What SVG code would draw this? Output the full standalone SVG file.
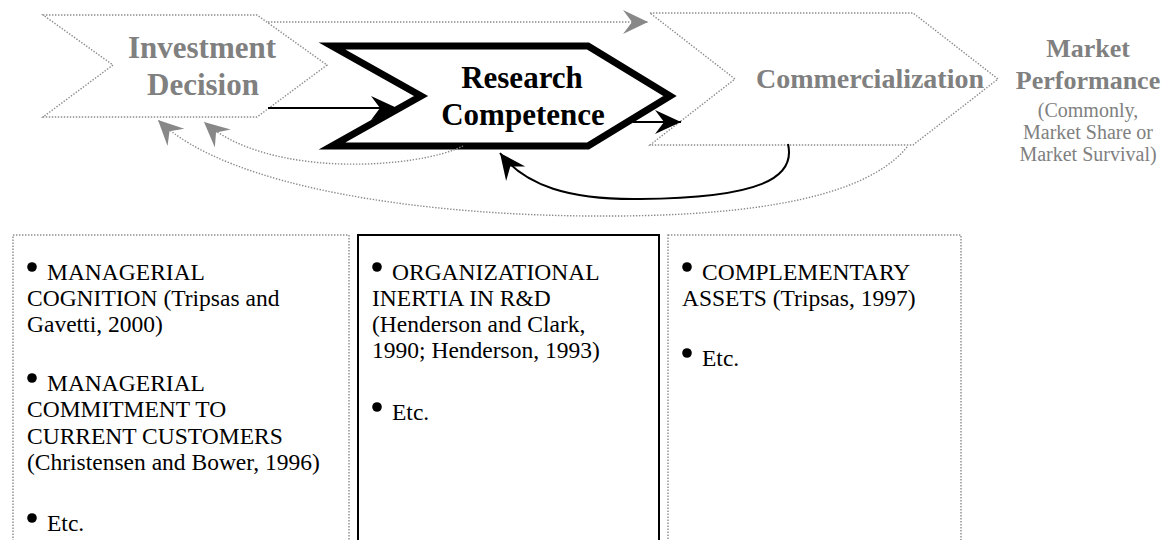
<svg xmlns="http://www.w3.org/2000/svg" width="1167" height="540" viewBox="0 0 1167 540">
<style>
.dot{fill:none;stroke:#8a8a8a;stroke-width:1.4;stroke-dasharray:1.4 1.6}
.gt{font-family:"Liberation Serif","Times New Roman",serif;font-weight:bold;fill:#808080;text-anchor:middle}
.gs{font-family:"Liberation Serif","Times New Roman",serif;fill:#808080;text-anchor:middle;font-size:20px}
.bt{font-family:"Liberation Serif","Times New Roman",serif;font-weight:bold;fill:#000;text-anchor:middle;font-size:31px}
.body{font-family:"Liberation Serif","Times New Roman",serif;font-size:23.5px;fill:#000}
.bul{fill:#000}
.blk{fill:none;stroke:#000;stroke-width:2}
</style>
<defs>
<marker id="ab" markerUnits="userSpaceOnUse" viewBox="-28 -14 30 28" refX="0" refY="0" markerWidth="30" markerHeight="28" orient="auto"><path d="M0,0 L-26,-12 L-17,0 L-26,12 Z" fill="#000"/></marker>
<marker id="ag" markerUnits="userSpaceOnUse" viewBox="-28 -14 30 28" refX="0" refY="0" markerWidth="30" markerHeight="28" orient="auto"><path d="M0,0 L-25,-12 L-16,0 L-25,12 Z" fill="#888"/></marker>
</defs>
<rect width="1167" height="540" fill="#fff"/>

<g id="investment-decision">
<polygon class="dot" points="43,15 257,15 327,65 257,117 43,117 113,65"/>
<text class="gt" font-size="31" x="202" y="58">Investment</text>
<text class="gt" font-size="31" x="203" y="95">Decision</text>
</g>

<g id="commercialization">
<polygon class="dot" points="650,13 913,13 998,79 913,145 650,145 735,79"/>
<text class="gt" font-size="28" x="870" y="88">Commercialization</text>
</g>

<g id="research-competence">
<polygon points="332,46 588,46 670,96 588,146 332,146 421,96" fill="#fff" stroke="#000" stroke-width="7" stroke-linejoin="miter"/>
<text class="bt" x="522" y="88">Research</text>
<text class="bt" x="523" y="125">Competence</text>
</g>

<g id="market-performance">
<text class="gt" font-size="26" x="1088" y="57">Market</text>
<text class="gt" font-size="26" x="1088" y="89">Performance</text>
<text class="gs" x="1088" y="117">(Commonly,</text>
<text class="gs" x="1088" y="139">Market Share or</text>
<text class="gs" x="1088" y="161">Market Survival)</text>
</g>

<g id="connectors">
<path class="dot" d="M268,22 L648,22" marker-end="url(#ag)"/>
<path class="dot" d="M463,146 C420,168 270,180 204,122" marker-end="url(#ag)"/>
<path class="dot" d="M907,147 C860,205 720,217 590,216 C430,215 230,190 158,120" marker-end="url(#ag)"/>
<path class="blk" d="M268,108 L397,108" marker-end="url(#ab)"/>
<path class="blk" d="M633,122 L681,122" marker-end="url(#ab)"/>
<path class="blk" d="M788,144 C796,178 760,198 640,199 C570,200 525,186 500,153" marker-end="url(#ab)"/>
</g>

<g id="box-left">
<rect class="dot" x="13" y="235" width="336" height="330"/>
<circle class="bul" cx="32" cy="267" r="4.8"/>
<text class="body" x="47" y="280">MANAGERIAL</text>
<text class="body" x="27" y="306">COGNITION (Tripsas and</text>
<text class="body" x="27" y="332">Gavetti, 2000)</text>
<circle class="bul" cx="32" cy="378" r="4.8"/>
<text class="body" x="47" y="391">MANAGERIAL</text>
<text class="body" x="27" y="417">COMMITMENT TO</text>
<text class="body" x="27" y="444">CURRENT CUSTOMERS</text>
<text class="body" x="27" y="470">(Christensen and Bower, 1996)</text>
<circle class="bul" cx="32" cy="518" r="4.8"/>
<text class="body" x="47" y="531">Etc.</text>
</g>

<g id="box-middle">
<rect x="358" y="235" width="301" height="330" fill="none" stroke="#000" stroke-width="2"/>
<circle class="bul" cx="377" cy="267" r="4.8"/>
<text class="body" x="392" y="280">ORGANIZATIONAL</text>
<text class="body" x="372" y="306">INERTIA IN R&amp;D</text>
<text class="body" x="372" y="332">(Henderson and Clark,</text>
<text class="body" x="372" y="358">1990; Henderson, 1993)</text>
<circle class="bul" cx="377" cy="407" r="4.8"/>
<text class="body" x="392" y="420">Etc.</text>
</g>

<g id="box-right">
<rect class="dot" x="668" y="235" width="293" height="330"/>
<circle class="bul" cx="687" cy="267" r="4.8"/>
<text class="body" x="702" y="280">COMPLEMENTARY</text>
<text class="body" x="682" y="306">ASSETS (Tripsas, 1997)</text>
<circle class="bul" cx="687" cy="353" r="4.8"/>
<text class="body" x="702" y="366">Etc.</text>
</g>
</svg>
